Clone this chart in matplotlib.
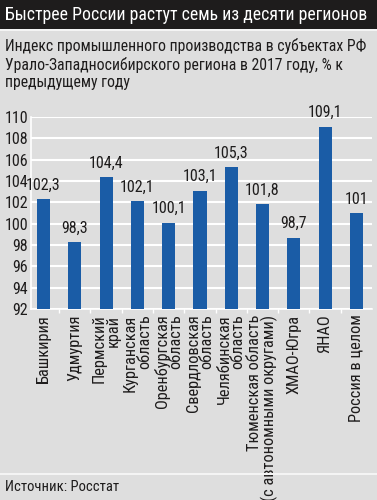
import matplotlib
matplotlib.use("Agg")
import matplotlib.pyplot as plt
import numpy as np

plt.rcParams['font.family'] = ['Roboto Condensed', 'DejaVu Sans']

# data
regions = ['Башкирия', 'Удмуртия', 'Пермский\nкрай', 'Курганская\nобласть',
           'Оренбургская\nобласть', 'Свердловская\nобласть', 'Челябинская\nобласть',
           'Тюменская область\n(с автономными округами)', 'ХМАО-Югра', 'ЯНАО',
           'Россия в целом']
values = [102.3, 98.3, 104.4, 102.1, 100.1, 103.1, 105.3, 101.8, 98.7, 109.1, 101]
labels = ['102,3', '98,3', '104,4', '102,1', '100,1', '103,1', '105,3', '101,8',
          '98,7', '109,1', '101']
yticks = [92, 94, 96, 98, 100, 102, 104, 106, 108, 110]

bg = '#dedede'
blue = '#1a5ca6'
ink = '#1e1c1c'

fig = plt.figure(figsize=(3.77, 5.0), dpi=100, facecolor=bg)

# title bar
fig.patches.append(plt.Rectangle((0, 1 - 29/500), 1, 29/500, transform=fig.transFigure,
                                 facecolor=ink, edgecolor='none', zorder=0))
fig.patches.append(plt.Rectangle((0, 1 - 31/500), 1, 2/500, transform=fig.transFigure,
                                 facecolor='#f4f4f4', edgecolor='none', zorder=0))
fig.text(5/377, 1 - 15/500, 'Быстрее России растут семь из десяти регионов',
         color='white', fontsize=12.8, va='center', ha='left')

fig.text(5/377, 1 - 38/500,
         'Индекс промышленного производства в субъектах РФ\n'
         'Урало-Западносибирского региона в 2017 году, % к\n'
         'предыдущему году',
         color=ink, fontsize=11.3, va='top', ha='left', linespacing=1.22)

# footer
fig.patches.append(plt.Rectangle((0, 25/500), 1, 2/500, transform=fig.transFigure,
                                 facecolor='#f4f4f4', edgecolor='none', zorder=0))
fig.text(5/377, 13/500, 'Источник: Росстат', color=ink, fontsize=10.5,
         va='center', ha='left')

ax = fig.add_axes([31/377, 1 - 309/500, 341/377, 192/500])
ax.set_facecolor(bg)
x = np.arange(len(values))
ax.bar(x, np.array(values) - 92, bottom=92, width=0.42, color=blue, zorder=3)
for xi, v, l in zip(x, values, labels):
    ax.text(xi, v + 0.6, l, ha='center', va='bottom', fontsize=11.5, color=ink)

ax.set_ylim(92, 110)
ax.set_xlim(-0.4, 10.5)
ax.set_yticks(yticks)
ax.set_yticklabels([str(t) for t in yticks], fontsize=11.5, color=ink)
ax.grid(axis='y', color='white', linewidth=1.5, zorder=0)
ax.tick_params(axis='y', length=0, pad=2)
ax.set_xticks(x)
ax.set_xticklabels(regions, rotation=90, fontsize=11.8, color=ink,
                   multialignment='right', linespacing=0.9)
ax.set_xticks(x[:-1] + 0.5, minor=True)
ax.tick_params(axis='x', which='major', length=0, pad=4)
ax.tick_params(axis='x', which='minor', length=3, color='white', width=1)
for s in ['top', 'right']:
    ax.spines[s].set_visible(False)
ax.spines['left'].set_color('white')
ax.spines['bottom'].set_color('white')
ax.spines['left'].set_linewidth(1.2)
ax.spines['bottom'].set_linewidth(1.2)

fig.savefig('out.png', dpi=100, facecolor=bg)
